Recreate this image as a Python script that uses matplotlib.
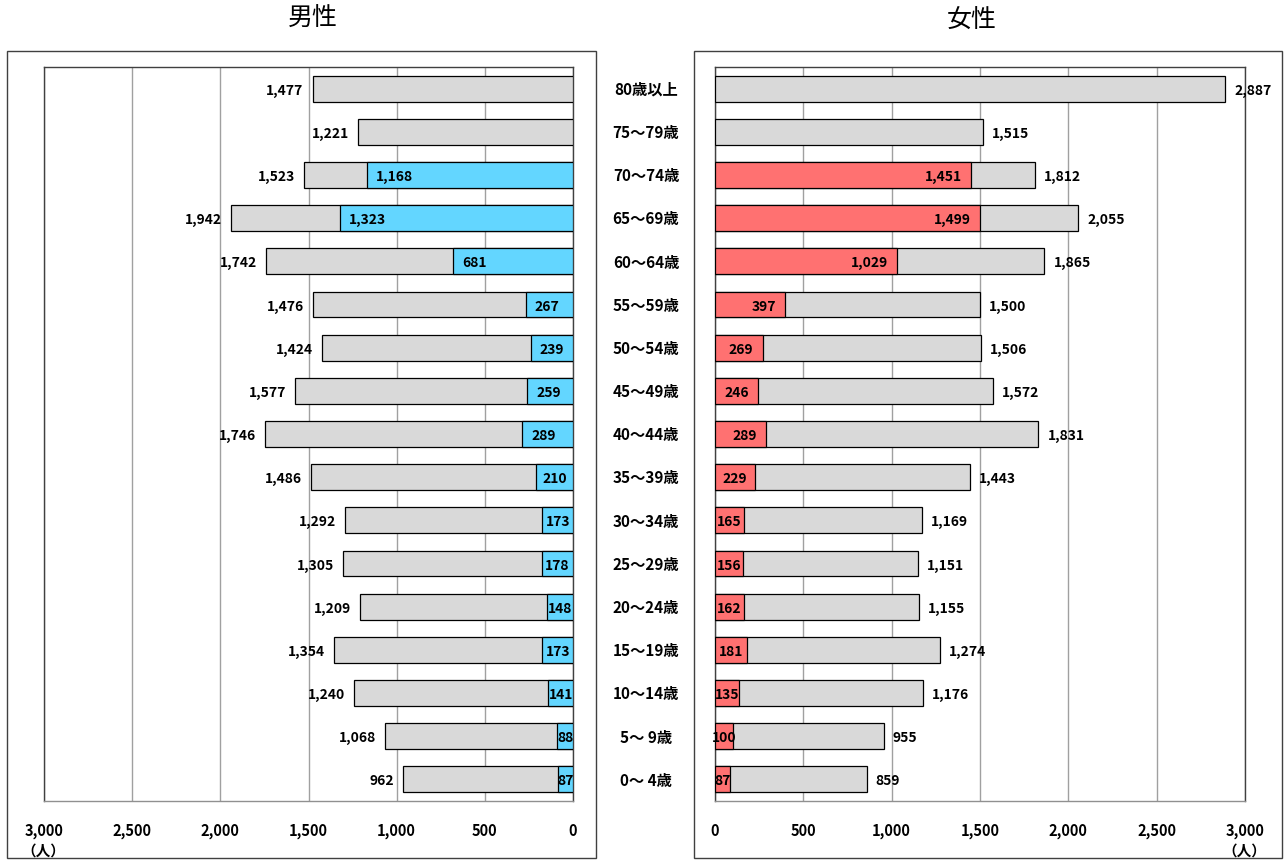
import numpy as np
import matplotlib
matplotlib.use("Agg")
import matplotlib.pyplot as plt
import matplotlib.transforms as mtransforms
import matplotlib.patches as mpatches

plt.rcParams['font.family'] = ['Noto Sans CJK JP', 'DejaVu Sans']

ages = ["80歳以上", "75～79歳", "70～74歳", "65～69歳", "60～64歳", "55～59歳",
        "50～54歳", "45～49歳", "40～44歳", "35～39歳", "30～34歳", "25～29歳",
        "20～24歳", "15～19歳", "10～14歳", "5～ 9歳", "0～ 4歳"]
men_total = [1477, 1221, 1523, 1942, 1742, 1476, 1424, 1577, 1746, 1486,
             1292, 1305, 1209, 1354, 1240, 1068, 962]
men_part = [0, 0, 1168, 1323, 681, 267, 239, 259, 289, 210,
            173, 178, 148, 173, 141, 88, 87]
women_total = [2887, 1515, 1812, 2055, 1865, 1500, 1506, 1572, 1831, 1443,
               1169, 1151, 1155, 1274, 1176, 955, 859]
women_part = [0, 0, 1451, 1499, 1029, 397, 269, 246, 289, 229,
              165, 156, 162, 181, 135, 100, 87]
ticks = [0, 500, 1000, 1500, 2000, 2500, 3000]

GRAY = "#D9D9D9"
BLUE = "#63D6FF"
RED = "#FF7171"
W, H = 1287, 860

fig = plt.figure(figsize=(W / 100, H / 100), dpi=100)

# outer frames around each panel
for x0, x1 in [(7, 596), (694, 1282)]:
    fig.patches.append(mpatches.Rectangle((x0 / W, 2 / H), (x1 - x0) / W, 807 / H,
                                          transform=fig.transFigure, fill=False,
                                          edgecolor="#404040", lw=1.0))

ax_m = fig.add_axes([44 / W, 1 - 801 / H, 529 / W, 734 / H])
ax_w = fig.add_axes([715 / W, 1 - 801 / H, 530 / W, 734 / H])

y = np.arange(len(ages))
px_per_unit = 529 / 3000


def fmt(v):
    return "{:,}".format(v)


def px2pt(px):
    return px * 72 / 100


DY = -1.5  # nudge labels slightly below bar centre

for ax, total, part, color, side in [(ax_m, men_total, men_part, BLUE, -1),
                                     (ax_w, women_total, women_part, RED, 1)]:
    ax.barh(y, total, height=0.6, color=GRAY, edgecolor="black", lw=0.9, zorder=3)
    sub = np.array(part, dtype=float)
    mask = sub > 0
    ax.barh(y[mask], sub[mask], height=0.6, color=color, edgecolor="black",
            lw=0.9, zorder=4)
    ax.set_xlim(0, 3000)
    ax.set_ylim(len(ages) - 0.5, -0.5)
    if side < 0:
        ax.invert_xaxis()
    ax.set_yticks([])
    ax.set_xticks(ticks)
    ax.set_xticklabels([fmt(t) for t in ticks], fontsize=10.5, fontweight="bold")
    ax.tick_params(axis="x", length=0, pad=16)
    ax.grid(axis="x", color="#A0A0A0", lw=1.0, zorder=0)
    for s in ax.spines.values():
        s.set_color("#404040")
        s.set_linewidth(1.0)
    ax.spines["bottom"].set_color("#909090")

    for i in range(len(ages)):
        # totals outside the bar end
        ax.annotate(fmt(total[i]), (total[i], i), xytext=(side * px2pt(9), DY),
                    textcoords="offset points", ha="left" if side > 0 else "right",
                    va="center", fontsize=10, fontweight="bold", zorder=6)
        if part[i] > 0:
            s = fmt(part[i])
            bar_px = part[i] * px_per_unit
            tw = len(s) * 7.5
            if bar_px - tw >= 18:
                ax.annotate(s, (part[i], i), xytext=(-side * px2pt(9), DY),
                            textcoords="offset points",
                            ha="right" if side > 0 else "left",
                            va="center", fontsize=10, fontweight="bold", zorder=6)
            else:
                ax.annotate(s, (part[i] / 2, i), xytext=(0, DY),
                            textcoords="offset points", ha="center", va="center",
                            fontsize=10, fontweight="bold", zorder=6)

# age group labels in the middle column
trans = mtransforms.blended_transform_factory(fig.transFigure, ax_m.transData)
for i, a in enumerate(ages):
    fig.text(646 / W, i + 0.03, a, transform=trans, ha="center", va="center",
             fontsize=11, fontweight="bold")

fig.text(313 / W, 1 - 19 / H, "男性", ha="center", va="center", fontsize=18)
fig.text(972 / W, 1 - 21 / H, "女性", ha="center", va="center", fontsize=18)
fig.text(43 / W, 1 - 851 / H, "（人）", ha="center", va="center",
         fontsize=10.5, fontweight="bold")
fig.text(1244 / W, 1 - 851 / H, "（人）", ha="center", va="center",
         fontsize=10.5, fontweight="bold")

fig.savefig("out.png", dpi=100)
